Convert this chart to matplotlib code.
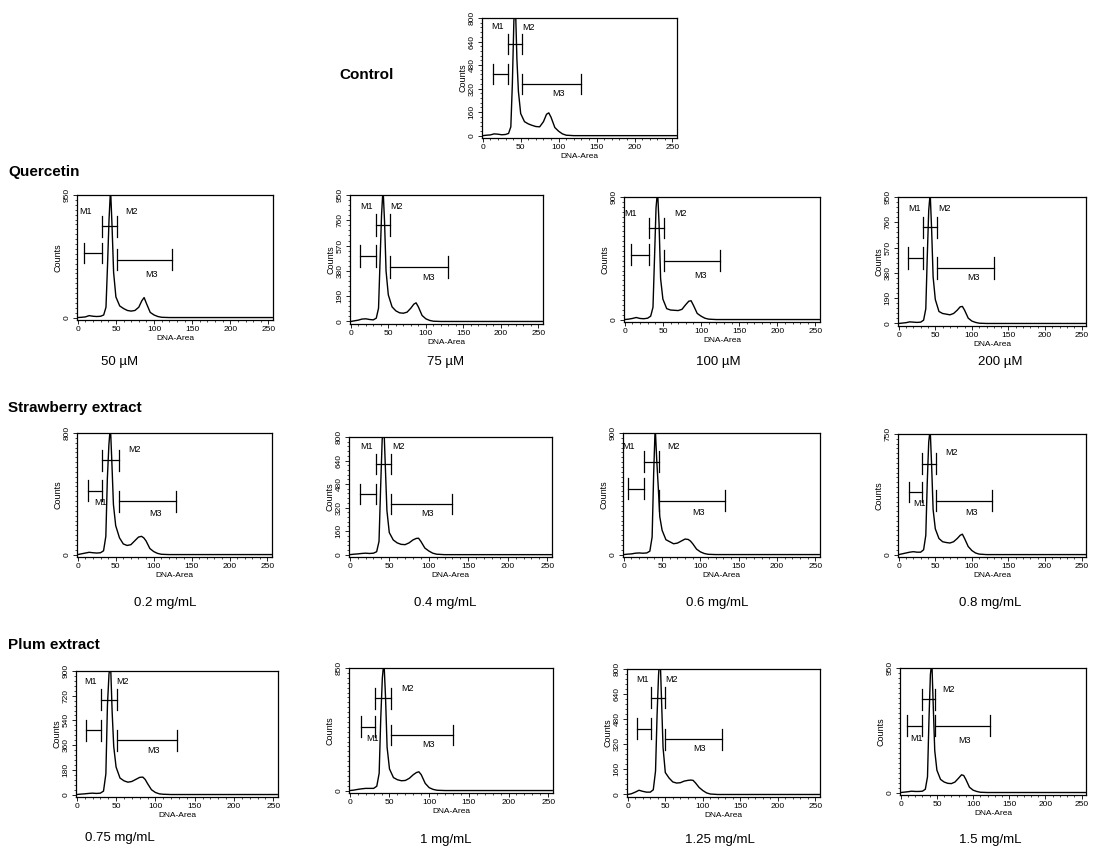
import matplotlib
matplotlib.use("Agg")
import matplotlib.pyplot as plt
from matplotlib.ticker import MultipleLocator

plt.rcParams["font.family"] = ["Liberation Sans", "DejaVu Sans"]

# DNA-Area channel grid shared by every histogram
dna_area = [0, 5, 10, 15, 20, 25, 30, 34, 37, 39, 41, 43, 45, 47, 50, 55,
            60, 65, 70, 75, 80, 84, 87, 90, 95, 100, 105, 110, 120, 255]

# counts (peaks above the axis top get clipped)
counts_control = [0, 3, 5, 12, 10, 6, 8, 15, 60, 350, 780, 900, 520, 300, 150, 95,
                  80, 70, 62, 60, 95, 145, 155, 125, 55, 30, 12, 3, 0, 0]
counts_q50 = [0, 2, 5, 15, 10, 8, 10, 20, 80, 400, 760, 1000, 700, 350, 160, 90,
              70, 55, 50, 55, 80, 130, 155, 110, 40, 20, 8, 2, 0, 0]
counts_q75 = [0, 5, 10, 18, 20, 15, 12, 25, 100, 450, 800, 1000, 750, 380, 200, 110,
              80, 65, 62, 70, 100, 130, 140, 110, 45, 20, 8, 2, 0, 0]
counts_q100 = [0, 3, 8, 15, 8, 6, 10, 25, 90, 450, 820, 950, 700, 300, 150, 80,
               70, 68, 66, 75, 110, 135, 138, 105, 45, 25, 10, 3, 0, 0]
counts_q200 = [0, 3, 6, 12, 10, 8, 10, 25, 110, 500, 850, 980, 700, 350, 180, 90,
               75, 70, 65, 75, 100, 125, 128, 100, 40, 18, 8, 2, 0, 0]
counts_s02 = [0, 5, 10, 15, 12, 10, 12, 25, 120, 500, 720, 850, 600, 330, 190, 110,
              70, 60, 65, 90, 115, 120, 110, 90, 40, 20, 8, 2, 0, 0]
counts_s04 = [0, 3, 5, 8, 10, 8, 10, 20, 90, 450, 780, 900, 600, 300, 150, 100,
              80, 70, 68, 80, 100, 110, 112, 90, 45, 25, 10, 3, 0, 0]
counts_s06 = [0, 3, 5, 10, 12, 10, 12, 25, 130, 600, 950, 700, 500, 280, 180, 110,
              95, 80, 85, 100, 115, 112, 100, 80, 40, 20, 8, 2, 0, 0]
counts_s08 = [0, 5, 10, 15, 18, 15, 15, 30, 120, 450, 700, 780, 550, 280, 160, 100,
              80, 75, 72, 80, 100, 120, 127, 100, 50, 25, 10, 3, 0, 0]
counts_p075 = [0, 3, 5, 8, 10, 8, 10, 25, 150, 650, 880, 950, 600, 350, 200, 120,
               100, 90, 95, 110, 125, 127, 110, 80, 35, 15, 5, 2, 0, 0]
counts_p1 = [0, 3, 8, 12, 15, 15, 15, 30, 120, 500, 780, 900, 650, 300, 150, 90,
             75, 68, 70, 85, 110, 125, 130, 110, 50, 20, 8, 2, 0, 0]
counts_p125 = [0, 5, 15, 27, 20, 15, 15, 30, 150, 500, 760, 900, 600, 300, 140, 105,
               80, 73, 75, 85, 90, 92, 90, 75, 45, 25, 10, 3, 0, 0]
counts_p15 = [0, 3, 6, 10, 8, 8, 10, 25, 120, 550, 900, 1000, 650, 320, 170, 100,
              80, 70, 68, 80, 110, 135, 130, 100, 40, 18, 8, 2, 0, 0]

panel_keys = ["control", "q50", "q75", "q100", "q200", "s02", "s04", "s06", "s08",
              "p075", "p1", "p125", "p15"]
panel_counts = [counts_control, counts_q50, counts_q75, counts_q100, counts_q200,
                counts_s02, counts_s04, counts_s06, counts_s08,
                counts_p075, counts_p1, counts_p125, counts_p15]
panel_ymax = [800, 950, 950, 900, 950, 800, 800, 900, 750, 900, 850, 800, 950]
panel_yticks = [[0, 160, 320, 480, 640, 800], [0, 950], [0, 190, 380, 570, 760, 950],
                [0, 900], [0, 190, 380, 570, 760, 950], [0, 800],
                [0, 160, 320, 480, 640, 800], [0, 900], [0, 750],
                [0, 180, 360, 540, 720, 900], [0, 850], [0, 160, 320, 480, 640, 800], [0, 950]]
panel_captions = ["", "50 µM", "75 µM", "100 µM", "200 µM",
                  "0.2 mg/mL", "0.4 mg/mL", "0.6 mg/mL", "0.8 mg/mL",
                  "0.75 mg/mL", "1 mg/mL", "1.25 mg/mL", "1.5 mg/mL"]

# marker gates M1, M2, M3: (start, end, count level)
panel_gates = [
    [(13, 33, 420), (33, 52, 620), (52, 130, 353)],
    [(8, 32, 500), (32, 51, 706), (51, 124, 449)],
    [(12, 33, 491), (33, 52, 724), (52, 130, 410)],
    [(8, 32, 475), (32, 52, 672), (52, 125, 432)],
    [(13, 33, 491), (33, 52, 722), (52, 130, 415)],
    [(13, 32, 421), (32, 54, 620), (54, 130, 351)],
    [(13, 33, 413), (33, 52, 615), (52, 130, 342)],
    [(5, 26, 489), (26, 46, 687), (46, 132, 399)],
    [(14, 32, 390), (32, 51, 565), (51, 127, 335)],
    [(12, 31, 470), (31, 51, 692), (51, 127, 394)],
    [(14, 32, 442), (32, 52, 641), (52, 130, 385)],
    [(12, 31, 419), (31, 50, 618), (50, 126, 352)],
    [(8, 29, 509), (29, 48, 711), (48, 124, 509)],
]
gate_names = ["M1", "M2", "M3"]

# ---- layout (pixel boxes: left, top, right, bottom) ----
W, H = 1095, 848
boxes = [(482, 18, 677, 138),
         (77, 195, 273, 320), (350, 195, 543, 324), (624, 197, 820, 322), (898, 197, 1086, 326),
         (77, 433, 272, 557), (349, 437, 552, 557), (623, 433, 820, 557), (898, 434, 1086, 557),
         (76, 671, 278, 797), (349, 668, 553, 793), (627, 669, 820, 797), (900, 668, 1086, 795)]
caption_xy = [None, (120, 362), (446, 362), (718, 362), (1000, 362),
              (165, 603), (445, 603), (717, 603), (990, 603),
              (120, 838), (446, 840), (720, 840), (990, 840)]
gate_label_xy = [
    [(20, 744), (60, 733), (100, 289)],
    [(10, 822), (71, 822), (97, 334)],
    [(21, 864), (61, 864), (103, 331)],
    [(8, 780), (73, 780), (99, 324)],
    [(21, 864), (62, 864), (102, 346)],
    [(30, 340), (75, 690), (102, 267)],
    [(21, 737), (62, 737), (99, 282)],
    [(6, 797), (65, 797), (98, 313)],
    [(28, 318), (72, 637), (99, 261)],
    [(18, 824), (58, 824), (98, 322)],
    [(28, 363), (73, 707), (99, 317)],
    [(20, 733), (58, 733), (96, 293)],
    [(22, 411), (66, 785), (88, 396)],
]

fig = plt.figure(figsize=(W / 100, H / 100), dpi=100)

for i, key in enumerate(panel_keys):
    l, t, r, b = boxes[i]
    ax = fig.add_axes([l / W, 1 - b / H, (r - l) / W, (b - t) / H])
    ymax = panel_ymax[i]
    ax.plot(dna_area, panel_counts[i], color="black", lw=1.0)
    cap = 0.085 * ymax
    for (x0, x1, y), name, (tx, ty) in zip(panel_gates[i], gate_names, gate_label_xy[i]):
        ax.plot([x0, x1], [y, y], color="black", lw=0.9)
        ax.plot([x0, x0], [y - cap, y + cap], color="black", lw=0.9)
        ax.plot([x1, x1], [y - cap, y + cap], color="black", lw=0.9)
        ax.text(tx, ty, name, fontsize=6.5, ha="center", va="center")
    ax.set_xlim(-1, 256)
    ax.set_ylim(-0.02 * ymax, ymax)
    ax.set_xticks([0, 50, 100, 150, 200, 250])
    ax.xaxis.set_minor_locator(MultipleLocator(10))
    ax.set_yticks(panel_yticks[i])
    ax.yaxis.set_minor_locator(MultipleLocator(ymax / 25))
    ax.tick_params(which="major", length=3, width=0.6, labelsize=6, pad=1.5)
    ax.tick_params(which="minor", length=1.5, width=0.5)
    ax.tick_params(axis="y", labelrotation=90)
    for lbl in ax.get_yticklabels():
        lbl.set_va("center")
    ax.set_xlabel("DNA-Area", fontsize=6, labelpad=1.5)
    ax.set_ylabel("Counts", fontsize=6.5, labelpad=1)
    for s in ax.spines.values():
        s.set_linewidth(0.9)
    if caption_xy[i] is not None:
        cx, cy = caption_xy[i]
        fig.text(cx / W, 1 - cy / H, panel_captions[i], fontsize=9.5, ha="center", va="center")

fig.text(367 / W, 1 - 75 / H, "Control", fontsize=11, fontweight="bold", ha="center", va="center")
fig.text(8 / W, 1 - 172 / H, "Quercetin", fontsize=11, fontweight="bold", ha="left", va="center")
fig.text(8 / W, 1 - 408 / H, "Strawberry extract", fontsize=11, fontweight="bold", ha="left", va="center")
fig.text(8 / W, 1 - 645 / H, "Plum extract", fontsize=11, fontweight="bold", ha="left", va="center")

fig.savefig("out.png", dpi=100)
